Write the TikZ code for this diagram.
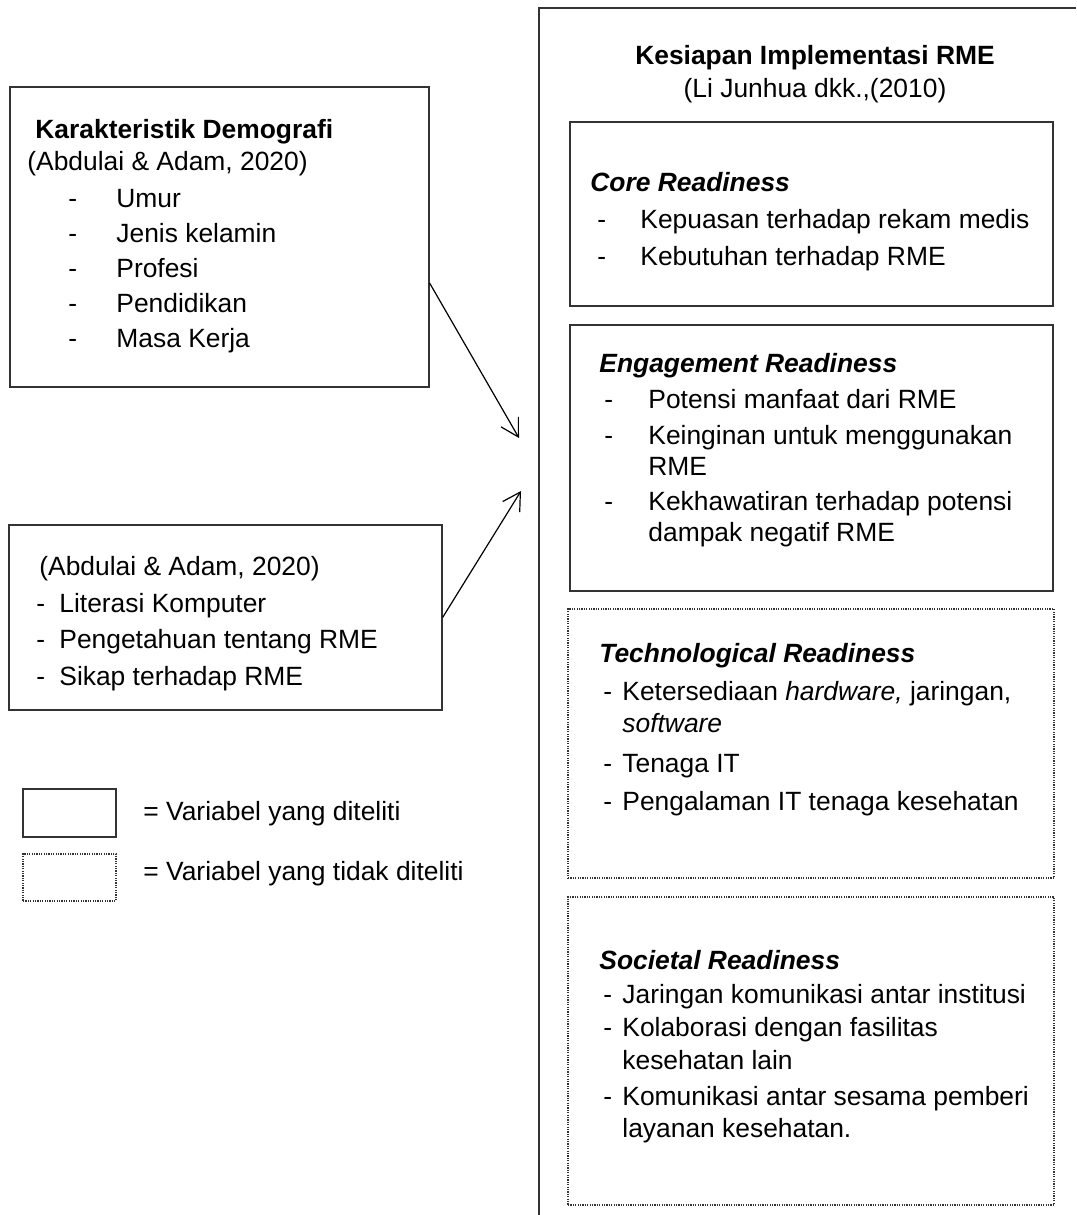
\documentclass[tikz,border=0pt]{standalone}
\usepackage{fontspec}
\setmainfont{Liberation Sans}
\usetikzlibrary{arrows.meta,fit}

\begin{document}
\begin{tikzpicture}[x=0.5pt,y=-0.5pt,
        txt/.style={anchor=base west,inner sep=0pt,font=\fontsize{13.2}{16}\selectfont},
        ttl/.style={txt,font=\fontsize{13.2}{16}\selectfont\bfseries},
        ttli/.style={txt,font=\fontsize{13.2}{16}\selectfont\bfseries\itshape},
        varbox/.style={draw=black!80,line width=0.6pt,inner sep=0pt},
        novarbox/.style={varbox,dash pattern=on 0.6pt off 0.6pt},
        arr/.style={-{Straight Barb[length=8.7pt,width=10pt]},line width=0.6pt}]
    \useasboundingbox (0,0) rectangle (1076,1215);

    % kesiapan implementasi RME
    \draw[black!80,line width=0.6pt] (539,1215) -- (539,8) -- (1076,8);
    \node[ttl,anchor=base] (rme) at (815,64) {Kesiapan Implementasi RME};
    \node[txt,anchor=base] (rmeref) at (815,97) {(Li Junhua dkk.,(2010)};

    % core readiness
    \node[varbox,fit={(570,122) (1053,306)}] (core) {};
    \node[ttli] (coret) at (590,191) {Core Readiness};
    \foreach \y/\t [count=\i] in {228/Kepuasan terhadap rekam medis, 265/Kebutuhan terhadap RME}{
        \node[txt] (cored\i) at (597,\y) {-};
        \node[txt] (corei\i) at (640,\y) {\t};
    }

    % engagement readiness
    \node[varbox,fit={(570,325) (1053,591)}] (engage) {};
    \node[ttli] (engaget) at (599,372) {Engagement Readiness};
    \foreach \y [count=\i] in {408,444,510}
        \node[txt] (engaged\i) at (604,\y) {-};
    \foreach \y/\t [count=\i] in {408/Potensi manfaat dari RME, 444/Keinginan untuk menggunakan,
            475/RME, 510/Kekhawatiran terhadap potensi, 541/dampak negatif RME}
        \node[txt] (engagei\i) at (648,\y) {\t};

    % technological readiness
    \node[novarbox,fit={(568,609) (1054,878)}] (tech) {};
    \node[ttli] (techt) at (599,662) {Technological Readiness};
    \foreach \y [count=\i] in {700,772,810}
        \node[txt] (techd\i) at (603,\y) {-};
    \foreach \y/\t [count=\i] in {700/{Ketersediaan \textit{hardware,} jaringan,}, 732/\textit{software},
            772/Tenaga IT, 810/Pengalaman IT tenaga kesehatan}
        \node[txt] (techi\i) at (622,\y) {\t};

    % societal readiness
    \node[novarbox,fit={(568,897) (1054,1205)}] (soc) {};
    \node[ttli] (soct) at (599,969) {Societal Readiness};
    \foreach \y [count=\i] in {1003,1036,1105}
        \node[txt] (socd\i) at (603,\y) {-};
    \foreach \y/\t [count=\i] in {1003/Jaringan komunikasi antar institusi, 1036/Kolaborasi dengan fasilitas,
            1069/kesehatan lain, 1105/Komunikasi antar sesama pemberi, 1137/layanan kesehatan.}
        \node[txt] (soci\i) at (622,\y) {\t};

    % karakteristik demografi
    \node[varbox,fit={(10,87) (429,387)}] (demo) {};
    \node[ttl] (demot) at (35,138) {Karakteristik Demografi};
    \node[txt] (demoref) at (27,170) {(Abdulai \& Adam, 2020)};
    \foreach \y/\t [count=\i] in {207/Umur, 242/Jenis kelamin, 277/Profesi, 312/Pendidikan, 347/Masa Kerja}{
        \node[txt] (demod\i) at (68,\y) {-};
        \node[txt] (demoi\i) at (116,\y) {\t};
    }

    % literasi dan sikap
    \node[varbox,fit={(9,525) (442,710)}] (faktor) {};
    \node[txt] (faktorref) at (39,575) {(Abdulai \& Adam, 2020)};
    \foreach \y/\t [count=\i] in {612/Literasi Komputer, 648/Pengetahuan tentang RME, 685/Sikap terhadap RME}{
        \node[txt] (faktord\i) at (36,\y) {-};
        \node[txt] (faktori\i) at (59,\y) {\t};
    }

    % panah
    \coordinate (tip1) at (519,438);
    \coordinate (tip2) at (521,491);
    \draw[arr] ([yshift=-23pt]demo.east) -- (tip1);
    \draw[arr] (faktor.east) -- (tip2);

    % keterangan
    \node[varbox,fit={(23,789) (116,837)}] (legvar) {};
    \node[novarbox,fit={(23,854) (116,901)}] (legnovar) {};
    \node[txt] (legvart) at (143,820) {= Variabel yang diteliti};
    \node[txt] (legnovart) at (143,880) {= Variabel yang tidak diteliti};
\end{tikzpicture}
\end{document}
